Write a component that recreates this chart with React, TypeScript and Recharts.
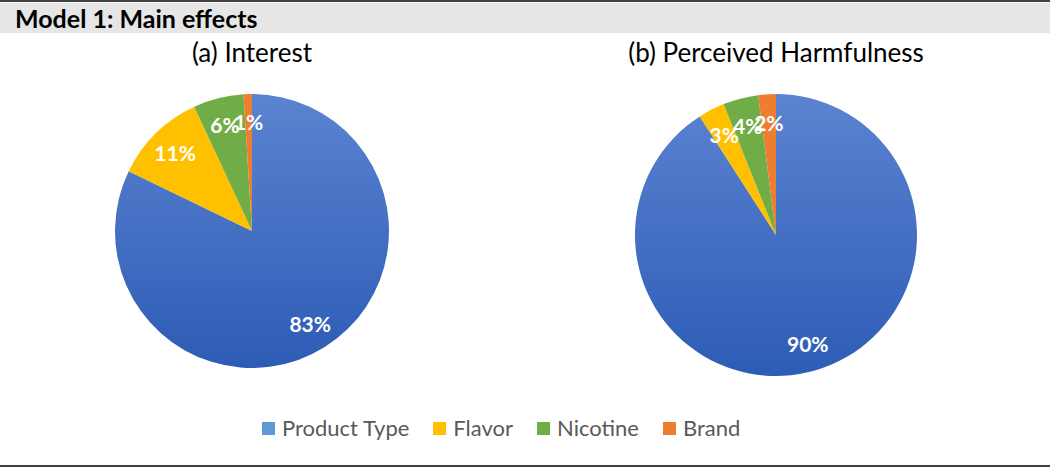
import React from 'react';
import { PieChart, Pie, Cell, Legend } from 'recharts';

const CATEGORIES = ['Product Type', 'Flavor', 'Nicotine', 'Brand'];
const INTEREST = [83, 11, 6, 1];
const HARMFULNESS = [90, 3, 4, 2];
const PANEL_TITLES = ['(a) Interest', '(b) Perceived Harmfulness'];

const SLICE_COLORS = ['url(#blueFill)', '#ffc000', '#70ad47', '#ed7d31'];
const LEGEND_COLORS = ['#5b9bd5', '#ffc000', '#70ad47', '#ed7d31'];
const FONT = 'Lato, "Open Sans", sans-serif';

const toRows = (values: number[]) =>
  CATEGORIES.map((name, i) => ({ name, value: values[i] }));

const RAD = Math.PI / 180;

const renderLabel = (props: any) => {
  const { cx, cy, midAngle, outerRadius, value } = props;
  const r = outerRadius * 0.8;
  const x = cx + r * Math.cos(-midAngle * RAD);
  const y = cy + r * Math.sin(-midAngle * RAD);
  return (
    <text
      x={x}
      y={y}
      fill="#fff"
      textAnchor="middle"
      dominantBaseline="central"
      fontFamily={FONT}
      fontWeight={700}
      fontSize={21}
    >
      {`${value}%`}
    </text>
  );
};

const LegendContent = () => (
  <div
    style={{
      display: 'flex',
      justifyContent: 'flex-start',
      gap: 24,
      fontFamily: FONT,
      fontSize: 22,
      lineHeight: '30px',
      color: '#595959',
      paddingLeft: 262,
    }}
  >
    {CATEGORIES.map((c, i) => (
      <div key={c} style={{ display: 'flex', alignItems: 'center' }}>
        <span
          style={{
            display: 'inline-block',
            width: 13,
            height: 13,
            background: LEGEND_COLORS[i],
            marginRight: 7,
          }}
        />
        {c}
      </div>
    ))}
  </div>
);

export default function App() {
  return (
    <div
      style={{
        position: 'absolute',
        left: 0,
        top: 0,
        width: 1050,
        height: 468,
        background: '#fff',
        fontFamily: FONT,
        overflow: 'hidden',
      }}
    >
      <div style={{ position: 'absolute', left: 0, top: 0, width: 1050, height: 2, background: '#404040' }} />
      <div
        style={{
          position: 'absolute',
          left: 0,
          top: 3,
          width: 1050,
          height: 30,
          background: '#e7e6e6',
          fontWeight: 700,
          fontSize: 25,
          lineHeight: '30px',
          paddingLeft: 15,
          color: '#000',
          boxSizing: 'border-box',
        }}
      >
        Model 1: Main effects
      </div>
      <div style={{ position: 'absolute', left: 0, top: 465, width: 1050, height: 2, background: '#404040' }} />
      {PANEL_TITLES.map((t, i) => (
        <div
          key={t}
          style={{
            position: 'absolute',
            top: 36,
            left: i === 0 ? 252 - 200 : 776 - 200,
            width: 400,
            textAlign: 'center',
            fontSize: 26,
            lineHeight: '32px',
            color: '#000',
          }}
        >
          {t}
        </div>
      ))}
      <div style={{ position: 'absolute', left: 0, top: 0 }}>
        <PieChart width={1050} height={468} margin={{ top: 0, right: 0, bottom: 0, left: 0 }}>
          <defs>
            <linearGradient id="blueFill" x1="0" y1="0" x2="0" y2="1">
              <stop offset="0%" stopColor="#5b83d0" />
              <stop offset="100%" stopColor="#2d5cb6" />
            </linearGradient>
          </defs>
          <Pie
            data={toRows(INTEREST)}
            dataKey="value"
            nameKey="name"
            cx={252}
            cy={231}
            outerRadius={137}
            startAngle={90}
            endAngle={-270}
            stroke="none"
            label={renderLabel}
            labelLine={false}
            isAnimationActive={false}
          >
            {INTEREST.map((_, i) => (
              <Cell key={i} fill={SLICE_COLORS[i]} />
            ))}
          </Pie>
          <Pie
            data={toRows(HARMFULNESS)}
            dataKey="value"
            nameKey="name"
            cx={776}
            cy={235}
            outerRadius={141}
            startAngle={90}
            endAngle={-270}
            stroke="none"
            label={renderLabel}
            labelLine={false}
            isAnimationActive={false}
          >
            {HARMFULNESS.map((_, i) => (
              <Cell key={i} fill={SLICE_COLORS[i]} />
            ))}
          </Pie>
          <Legend
            verticalAlign="bottom"
            content={LegendContent}
            wrapperStyle={{ top: 413, left: 0, width: 1050, bottom: 'auto' }}
          />
        </PieChart>
      </div>
    </div>
  );
}
